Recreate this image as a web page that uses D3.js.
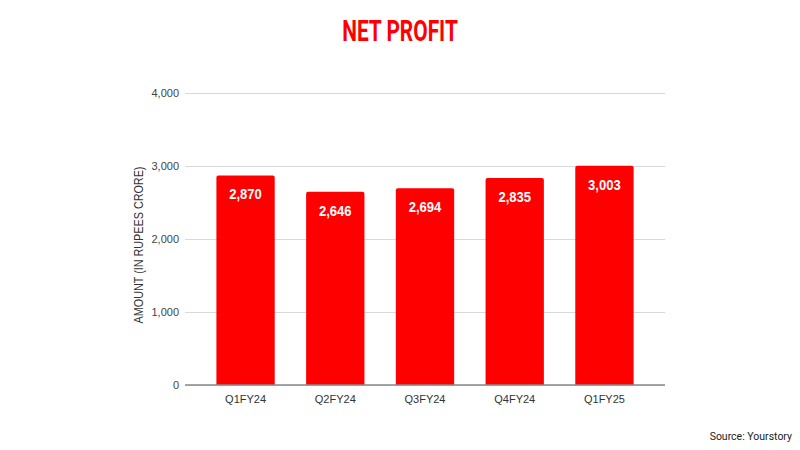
<!DOCTYPE html>
<html>
<head>
<meta charset="utf-8">
<script src="https://cdn.jsdelivr.net/npm/d3@7"></script>
<style>
  body { margin: 0; background: #fff; }
  svg { font-family: "Liberation Sans", Arial, sans-serif; }
</style>
</head>
<body>
<div id="vis"></div>
<script>
const FRAME_WIDTH = 800;
const FRAME_HEIGHT = 450;
const MARGINS = {left: 185, right: 135, top: 93, bottom: 65};

const VIS_WIDTH = FRAME_WIDTH - MARGINS.left - MARGINS.right;
const VIS_HEIGHT = FRAME_HEIGHT - MARGINS.top - MARGINS.bottom;

// data
const quarters = ["Q1FY24", "Q2FY24", "Q3FY24", "Q4FY24", "Q1FY25"];
const netProfit = [2870, 2646, 2694, 2835, 3003];
const yTicks = [0, 1000, 2000, 3000, 4000];

const X_SCALE = d3.scaleBand()
                  .domain(quarters)
                  .range([0, VIS_WIDTH])
                  .paddingInner(0.35)
                  .paddingOuter(0.35);

const Y_SCALE = d3.scaleLinear()
                  .domain([0, 4000])
                  .range([VIS_HEIGHT, 0]);

const SVG = d3.select("#vis")
              .append("svg")
                .attr("width", FRAME_WIDTH)
                .attr("height", FRAME_HEIGHT);

const G = SVG.append("g")
             .attr("transform", "translate(" + MARGINS.left + "," + MARGINS.top + ")");

// gridlines + tick labels
const yAxis = G.append("g")
  .call(d3.axisLeft(Y_SCALE).tickValues(yTicks).tickSize(-VIS_WIDTH).tickPadding(6)
          .tickFormat(d3.format(",")));
yAxis.select(".domain").remove();
yAxis.selectAll(".tick line").attr("stroke", "#d9d9d9").attr("stroke-width", 1);
yAxis.selectAll(".tick text").attr("font-size", 11).attr("fill", "#444")
     .attr("font-family", "'Liberation Sans', Arial, sans-serif");

// bars with slightly rounded tops
const bw = X_SCALE.bandwidth();
const r = 2;
G.selectAll(".bar")
  .data(quarters)
  .enter()
  .append("path")
    .attr("class", "bar")
    .attr("fill", "#ff0000")
    .attr("d", (d, i) => {
      const x = X_SCALE(d), y = Y_SCALE(netProfit[i]), h = VIS_HEIGHT - y;
      return "M" + x + "," + (y + h) +
             "V" + (y + r) + "Q" + x + "," + y + " " + (x + r) + "," + y +
             "H" + (x + bw - r) + "Q" + (x + bw) + "," + y + " " + (x + bw) + "," + (y + r) +
             "V" + (y + h) + "Z";
    });

// value labels (slightly narrow bold)
G.selectAll(".val")
  .data(quarters)
  .enter()
  .append("text")
    .attr("transform", (d, i) => "translate(" + (X_SCALE(d) + bw / 2) + "," +
                                 (Y_SCALE(netProfit[i]) + 24) + ") scale(0.9,1)")
    .attr("text-anchor", "middle")
    .attr("fill", "#fff")
    .attr("font-weight", "bold")
    .attr("font-size", 14.5)
    .text((d, i) => d3.format(",")(netProfit[i]));

// baseline
G.append("line")
  .attr("x1", 0).attr("x2", VIS_WIDTH)
  .attr("y1", VIS_HEIGHT).attr("y2", VIS_HEIGHT)
  .attr("stroke", "#888").attr("stroke-width", 1.5);

// x axis labels
const xAxis = G.append("g")
  .attr("transform", "translate(0," + VIS_HEIGHT + ")")
  .call(d3.axisBottom(X_SCALE).tickSize(0).tickPadding(10));
xAxis.select(".domain").remove();
xAxis.selectAll("text").attr("font-size", 11).attr("fill", "#333")
     .attr("font-family", "'Liberation Sans', Arial, sans-serif");

// y axis title
SVG.append("text")
  .attr("transform", "translate(143,245) rotate(-90) scale(0.9,1)")
  .attr("text-anchor", "middle")
  .attr("font-size", 12)
  .attr("fill", "#333")
  .text("AMOUNT (IN RUPEES CRORE)");

// title, condensed
SVG.append("text")
  .attr("transform", "translate(400,41) scale(0.72,1)")
  .attr("text-anchor", "middle")
  .attr("font-family", "Roboto, sans-serif")
  .attr("font-weight", "bold")
  .attr("font-size", 29)
  .attr("fill", "#ff0000")
  .text("NET PROFIT");

// source
SVG.append("text")
  .attr("x", 792)
  .attr("y", 440)
  .attr("text-anchor", "end")
  .attr("font-size", 10.5)
  .attr("fill", "#222")
  .attr("font-family", "Roboto, sans-serif")
  .text("Source: Yourstory");
</script>
</body>
</html>
